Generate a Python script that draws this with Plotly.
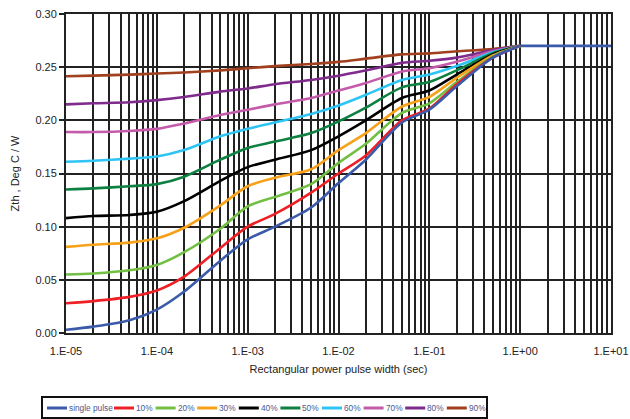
import plotly.graph_objects as go

# pulse widths (sec)
pulse_width = [1e-5, 2e-5, 5e-5, 1e-4, 2e-4, 5e-4, 1e-3, 2e-3, 5e-3,
               1e-2, 2e-2, 5e-2, 1e-1, 2e-1, 5e-1, 1.0]
# single pulse continues flat beyond 1 s
single_tail_width = [1.0, 10.0]
single_tail_value = [0.270, 0.270]

series_names = ["single pulse", "10%", "20%", "30%", "40%", "50%",
                "60%", "70%", "80%", "90%"]

single_pulse = [0.003, 0.006, 0.012, 0.022, 0.039, 0.068, 0.088, 0.100, 0.118,
                0.141, 0.163, 0.198, 0.210, 0.232, 0.259, 0.270]
duty_10 = [0.028, 0.030, 0.034, 0.040, 0.053, 0.080, 0.100, 0.112, 0.132,
           0.150, 0.167, 0.200, 0.211, 0.234, 0.259, 0.270]
duty_20 = [0.055, 0.056, 0.059, 0.064, 0.076, 0.098, 0.119, 0.128, 0.140,
           0.160, 0.178, 0.207, 0.216, 0.236, 0.260, 0.270]
duty_30 = [0.081, 0.083, 0.085, 0.089, 0.099, 0.120, 0.138, 0.146, 0.154,
           0.172, 0.188, 0.213, 0.222, 0.240, 0.261, 0.270]
duty_40 = [0.108, 0.110, 0.111, 0.114, 0.124, 0.143, 0.156, 0.163, 0.172,
           0.185, 0.200, 0.221, 0.228, 0.243, 0.262, 0.270]
duty_50 = [0.135, 0.136, 0.138, 0.140, 0.147, 0.163, 0.174, 0.180, 0.188,
           0.199, 0.212, 0.231, 0.236, 0.247, 0.263, 0.270]
duty_60 = [0.161, 0.162, 0.164, 0.166, 0.172, 0.185, 0.192, 0.198, 0.206,
           0.214, 0.224, 0.238, 0.243, 0.251, 0.264, 0.270]
duty_70 = [0.189, 0.189, 0.190, 0.192, 0.197, 0.205, 0.210, 0.215, 0.221,
           0.228, 0.235, 0.246, 0.249, 0.255, 0.265, 0.270]
duty_80 = [0.215, 0.216, 0.217, 0.219, 0.222, 0.227, 0.230, 0.234, 0.238,
           0.242, 0.247, 0.254, 0.256, 0.259, 0.266, 0.270]
duty_90 = [0.2415, 0.242, 0.243, 0.244, 0.245, 0.247, 0.249, 0.251, 0.253,
           0.255, 0.258, 0.262, 0.263, 0.265, 0.267, 0.270]

x_tick_values = [1e-5, 1e-4, 1e-3, 1e-2, 1e-1, 1e0, 1e1]
x_tick_labels = ["1.E-05", "1.E-04", "1.E-03", "1.E-02", "1.E-01", "1.E+00", "1.E+01"]

colors = ["#3B5BAA", "#EE2026", "#72BF44", "#F7A11A", "#000000",
          "#0E8142", "#2EC4F3", "#C45BAA", "#7F2B8C", "#A0401F"]

all_series = [single_pulse, duty_10, duty_20, duty_30, duty_40,
              duty_50, duty_60, duty_70, duty_80, duty_90]

W, H = 630, 419
L, R, T, B = 66, 19, 14, 86
plot_w = W - L - R
plot_h = H - T - B

fig = go.Figure()
# flat tail of the single-pulse curve
fig.add_trace(go.Scatter(
    x=single_tail_width, y=single_tail_value, mode="lines",
    line=dict(color=colors[0], width=2.6), showlegend=False,
))
for i in range(len(series_names) - 1, -1, -1):
    fig.add_trace(go.Scatter(
        x=pulse_width, y=all_series[i], name=series_names[i], mode="lines",
        line=dict(color=colors[i], width=2.6, shape="spline", smoothing=0.8),
        showlegend=False,
    ))

FONT = "Liberation Sans, Arial, sans-serif"
GRID = "#222222"

fig.update_xaxes(
    type="log", range=[-5, 1], automargin=False,
    tickmode="array", tickvals=x_tick_values, ticktext=x_tick_labels,
    showgrid=True, gridcolor=GRID, gridwidth=1.6,
    minor=dict(dtick="D1", showgrid=True, gridcolor=GRID, gridwidth=1.6, ticks=""),
    showline=True, linecolor="#222222", linewidth=2, mirror=True,
    ticks="", ticklabelstandoff=7,
    tickfont=dict(family=FONT, size=11, color="#222222"),
    title=dict(text="Rectangular power pulse width (sec)",
               font=dict(family=FONT, size=11, color="#222222"), standoff=9),
    zeroline=False,
)
fig.update_yaxes(
    range=[0, 0.3], dtick=0.05, tick0=0, tickformat=".2f", automargin=False,
    showgrid=True, gridcolor=GRID, gridwidth=1.6,
    showline=True, linecolor="#222222", linewidth=2, mirror=True,
    ticks="outside", ticklen=5, tickcolor="#222222", tickwidth=1.5,
    tickfont=dict(family=FONT, size=11, color="#222222"),
    title=dict(text="Zth , Deg C / W",
               font=dict(family=FONT, size=11, color="#222222"), standoff=14),
    zeroline=False,
)

# custom single-row legend built from the series names/colours
def px_to_paper_x(px):
    return (px - L) / plot_w

def py_to_paper_y(py):
    return (H - B - py) / plot_h

shapes = []
annotations = []
box_x0, box_x1, box_y0, box_y1 = 42, 487, 397, 418
shapes.append(dict(type="rect", xref="paper", yref="paper",
                   x0=px_to_paper_x(box_x0), x1=px_to_paper_x(box_x1),
                   y0=py_to_paper_y(box_y1), y1=py_to_paper_y(box_y0),
                   line=dict(color="#111111", width=2), fillcolor="white", layer="above"))
yc = py_to_paper_y(408)
start_positions = [47] + [114 + 41.6 * k for k in range(9)]
for i, name in enumerate(series_names):
    x0 = start_positions[i]
    shapes.append(dict(type="line", xref="paper", yref="paper",
                       x0=px_to_paper_x(x0), x1=px_to_paper_x(x0 + 20), y0=yc, y1=yc,
                       line=dict(color=colors[i], width=3)))
    annotations.append(dict(text=name, xref="paper", yref="paper",
                            x=px_to_paper_x(x0 + 20), y=yc, xanchor="left", yanchor="middle",
                            showarrow=False,
                            font=dict(family=FONT, size=8.3, color="#4A5890")))

fig.update_layout(
    width=W, height=H,
    margin=dict(l=L, r=R, t=T, b=B),
    paper_bgcolor="white", plot_bgcolor="white",
    showlegend=False,
    shapes=shapes, annotations=annotations,
)

fig.write_html("out.html", config={"displayModeBar": False},
               post_script="document.body.style.margin='0';document.body.style.padding='0';")
